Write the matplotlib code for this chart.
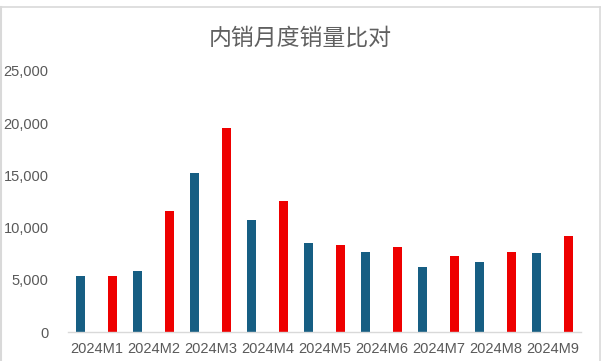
import matplotlib
matplotlib.use("Agg")
import matplotlib.pyplot as plt
import numpy as np
from matplotlib.lines import Line2D

plt.rcParams['font.family'] = ['Liberation Sans', 'Noto Sans CJK SC', 'DejaVu Sans']

title = "内销月度销量比对"
categories = ["2024M1", "2024M2", "2024M3", "2024M4", "2024M5",
              "2024M6", "2024M7", "2024M8", "2024M9"]
series_blue = [5360, 5840, 15230, 10730, 8520, 7660, 6230, 6700, 7570]
series_red = [5360, 11590, 19540, 12550, 8330, 8140, 7280, 7660, 9200]
yticks = [0, 5000, 10000, 15000, 20000, 25000]

blue = "#165E83"
red = "#EE0000"
gray = "#595959"

fig = plt.figure(figsize=(6.01, 3.61), dpi=100)
ax = fig.add_axes([68/601, 1-332/361, 513/601, 261/361])

x = np.arange(len(categories))
w = 0.155
off = 0.276
ax.bar(x - off, series_blue, width=w, color=blue)
ax.bar(x + off, series_red, width=w, color=red)

ax.set_xlim(-0.5, len(categories) - 0.5)
ax.set_ylim(0, 25000)
ax.set_yticks(yticks)
ax.set_yticklabels([f"{v:,}" for v in yticks])
ax.set_xticks(x)
ax.set_xticklabels(categories)
ax.tick_params(axis='both', length=0, labelsize=10.5, labelcolor=gray)
ax.tick_params(axis='y', pad=14)
ax.tick_params(axis='x', pad=7)
for s in ['left', 'right', 'top']:
    ax.spines[s].set_visible(False)
ax.spines['bottom'].set_color("#D9D9D9")
ax.spines['bottom'].set_linewidth(1.0)

fig.text(0.5, 1 - 38/361, title, ha='center', va='center', fontsize=16.5,
         color="#606060", family=['Noto Sans CJK SC', 'DejaVu Sans'])

# chart border
bc = "#D9D9D9"
fig.add_artist(Line2D([0.5/601, 599.5/601], [1-7/361, 1-7/361], color=bc, lw=1.2, transform=fig.transFigure))
fig.add_artist(Line2D([0.8/601, 0.8/601], [0, 1-7/361], color=bc, lw=1.5, transform=fig.transFigure))
fig.add_artist(Line2D([599.5/601, 599.5/601], [0, 1-7/361], color=bc, lw=1.2, transform=fig.transFigure))

fig.savefig("out.png", dpi=100)
